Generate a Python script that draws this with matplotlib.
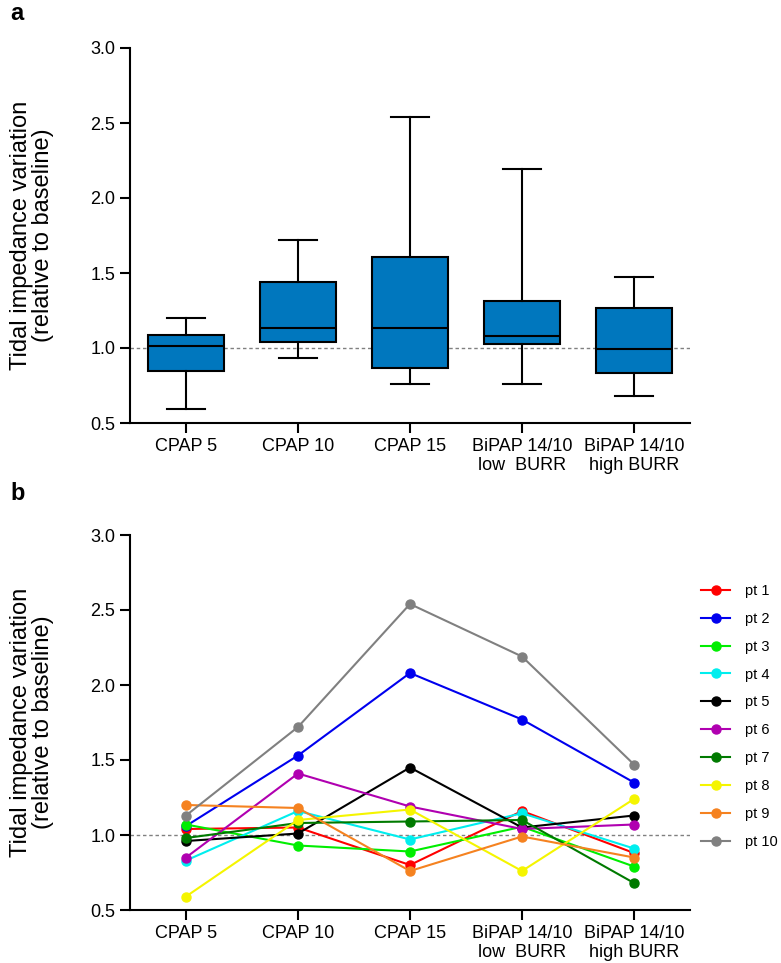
import numpy as np
import matplotlib
matplotlib.use("Agg")
import matplotlib.pyplot as plt

plt.rcParams['font.family'] = ['Liberation Sans', 'DejaVu Sans']

categories = ["CPAP 5", "CPAP 10", "CPAP 15", "BiPAP 14/10\nlow  BURR", "BiPAP 14/10\nhigh BURR"]
patients = ["pt 1", "pt 2", "pt 3", "pt 4", "pt 5", "pt 6", "pt 7", "pt 8", "pt 9", "pt 10"]
colors = ["#FF0000", "#0000EE", "#00EE00", "#00EEEE", "#000000",
          "#B000B0", "#007A00", "#F5F500", "#F58220", "#808080"]

pt1 = [1.04, 1.05, 0.80, 1.16, 0.88]
pt2 = [1.06, 1.53, 2.08, 1.77, 1.35]
pt3 = [1.07, 0.93, 0.89, 1.055, 0.79]
pt4 = [0.83, 1.16, 0.97, 1.145, 0.91]
pt5 = [0.96, 1.01, 1.45, 1.05, 1.13]
pt6 = [0.85, 1.41, 1.19, 1.04, 1.07]
pt7 = [0.98, 1.08, 1.09, 1.10, 0.68]
pt8 = [0.59, 1.10, 1.17, 0.76, 1.24]
pt9 = [1.20, 1.18, 0.76, 0.99, 0.85]
pt10 = [1.13, 1.72, 2.54, 2.19, 1.47]
series = [pt1, pt2, pt3, pt4, pt5, pt6, pt7, pt8, pt9, pt10]

data = np.array(series)
x = np.arange(len(categories))

fig = plt.figure(figsize=(7.81, 9.63), dpi=100)
W, H = 781, 963
axa = fig.add_axes([130 / W, 1 - 423 / H, 560 / W, 375 / H])
axb = fig.add_axes([130 / W, 1 - 910 / H, 560 / W, 375 / H])

# ---- panel a: box plots (min-max whiskers) ----
stats = []
for j in range(len(categories)):
    col = data[:, j]
    q1, med, q3 = np.percentile(col, [25, 50, 75], method='weibull')
    stats.append(dict(med=med, q1=q1, q3=q3, whislo=col.min(), whishi=col.max(), fliers=[]))
axa.bxp(stats, positions=x, widths=0.68, patch_artist=True, showfliers=False,
        boxprops=dict(facecolor="#0077BE", edgecolor="black", linewidth=1.5),
        medianprops=dict(color="black", linewidth=1.5),
        whiskerprops=dict(color="black", linewidth=1.5),
        capprops=dict(color="black", linewidth=1.5), capwidths=0.34)

for ax in (axa, axb):
    ax.axhline(1.0, color="#808080", linestyle=(0, (2.5, 2)), linewidth=1.0, zorder=0)
    ax.set_xlim(-0.5, 4.5)
    ax.set_ylim(0.5, 3.0)
    ax.set_yticks([0.5, 1.0, 1.5, 2.0, 2.5, 3.0])
    ax.set_yticklabels(["0.5", "1.0", "1.5", "2.0", "2.5", "3.0"])
    ax.set_xticks(x)
    ax.set_xticklabels(categories)
    ax.spines['top'].set_visible(False)
    ax.spines['right'].set_visible(False)
    ax.spines['left'].set_linewidth(1.5)
    ax.spines['bottom'].set_linewidth(1.5)
    ax.tick_params(axis='both', direction='out', length=7, width=1.5, labelsize=13)
    ax.set_ylabel("Tidal impedance variation\n(relative to baseline)", fontsize=17,
                  linespacing=1.05)
    ax.yaxis.set_label_coords(-0.135, 0.5)

# ---- panel b: individual patients ----
handles = []
for name, vals, c in zip(patients, series, colors):
    h, = axb.plot(x, vals, color=c, linewidth=1.5, marker='o', markersize=6.5,
                  markeredgecolor=c, markerfacecolor=c, label=name)
    handles.append(h)

fig.legend(handles=handles, labels=patients, loc='upper left',
           bbox_to_anchor=(701 / W, 1 - 584 / H), frameon=False, fontsize=10.5,
           handlelength=2.0, handletextpad=1.0, labelspacing=0.95,
           borderpad=0, borderaxespad=0)

fig.text(10 / W, 1 - 14 / H, "a", fontsize=17, fontweight='bold', va='center', ha='left')
fig.text(10 / W, 1 - 493 / H, "b", fontsize=17, fontweight='bold', va='center', ha='left')

fig.savefig("out.png", dpi=100)
